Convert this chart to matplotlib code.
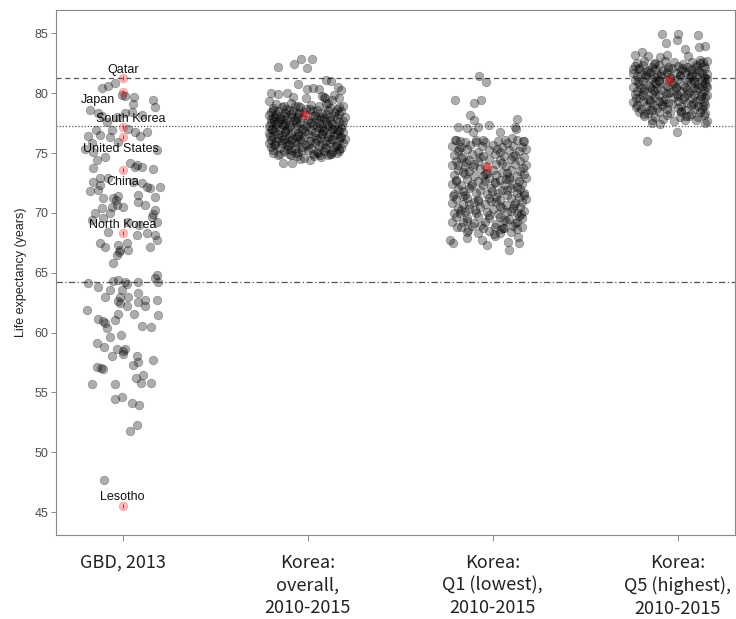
import matplotlib
matplotlib.use("Agg")
import matplotlib.pyplot as plt

# ---- data -------------------------------------------------------------
group_labels = ["GBD, 2013",
                "Korea:\noverall,\n2010-2015",
                "Korea:\nQ1 (lowest),\n2010-2015",
                "Korea:\nQ5 (highest),\n2010-2015"]

y_ticks = [45, 50, 55, 60, 65, 70, 75, 80, 85]

# reference levels (dashed, dotted, dash-dot)
ref_levels = [81.27, 77.26, 64.22]

highlight_countries = ["Qatar", "Japan", "South Korea", "United States",
                       "China", "North Korea", "Lesotho"]
highlight_values = [81.24, 80.12, 77.20, 76.31, 73.58, 68.29, 45.51]

# group means for the Korean series (overall, Q1, Q5)
korea_mean_values = [78.17, 73.81, 81.10]
korea_mean_jitter = [-0.015, -0.030, -0.045]

# (horizontal jitter, life expectancy) for every country / district
gbd_points = [
    (-0.042, 80.87), (-0.078, 80.60), (-0.114, 80.41), (-0.005, 79.85), (0.012, 79.77),
    (0.063, 79.70), (0.057, 79.09), (0.165, 79.43), (0.175, 78.87), (-0.177, 78.59),
    (-0.132, 78.32), (-0.114, 78.09), (-0.032, 78.03), (0.012, 78.32), (0.049, 78.45),
    (0.103, 78.17), (-0.086, 77.62), (-0.144, 76.92), (-0.059, 76.92), (0.030, 76.98),
    (0.066, 76.78), (0.130, 76.78), (-0.186, 76.42), (-0.123, 76.50), (-0.069, 76.31),
    (0.094, 76.42), (-0.024, 75.94), (-0.168, 75.81), (-0.204, 75.31), (-0.159, 75.11),
    (0.184, 75.25), (-0.141, 74.42), (-0.096, 74.69), (-0.159, 73.72), (0.039, 74.19),
    (0.066, 73.86), (0.077, 74.00), (0.103, 73.81), (0.165, 73.64), (-0.123, 72.91),
    (-0.080, 72.90), (-0.159, 72.60), (-0.123, 72.33), (-0.177, 71.83), (-0.132, 71.91),
    (-0.024, 71.43), (0.057, 72.60), (0.103, 72.47), (0.148, 72.05), (0.131, 72.20),
    (0.202, 72.19), (-0.105, 71.22), (-0.051, 71.27), (-0.036, 71.10), (0.084, 71.49),
    (0.175, 71.35), (0.084, 70.93), (0.121, 70.66), (-0.114, 70.38), (-0.059, 70.51),
    (-0.032, 70.66), (0.003, 70.51), (0.175, 70.24), (-0.150, 69.96), (-0.069, 69.96),
    (0.157, 69.68), (0.164, 69.90), (-0.168, 69.40), (-0.105, 69.55), (0.184, 69.26),
    (0.030, 69.20), (0.090, 69.00), (-0.078, 68.38), (0.076, 68.15), (0.130, 68.29),
    (0.175, 68.15), (0.184, 67.73), (-0.123, 67.46), (-0.096, 67.17), (-0.024, 67.31),
    (0.022, 67.46), (0.030, 66.90), (-0.032, 66.48), (-0.020, 66.70), (0.148, 67.17),
    (-0.015, 66.90), (-0.051, 65.79), (0.184, 64.81), (0.175, 64.53), (-0.186, 64.11),
    (-0.132, 63.83), (-0.051, 64.31), (-0.024, 64.39), (0.012, 64.20), (0.023, 64.05),
    (0.084, 64.25), (0.192, 64.25), (-0.069, 63.56), (-0.005, 63.56), (-0.096, 63.00),
    (-0.015, 63.00), (0.030, 62.95), (0.084, 63.28), (0.084, 62.58), (0.121, 62.72),
    (0.184, 62.72), (-0.195, 61.88), (-0.015, 62.44), (-0.025, 62.60), (0.022, 62.22),
    (0.121, 62.22), (-0.024, 61.55), (0.063, 61.53), (0.189, 61.44), (-0.132, 61.11),
    (-0.096, 60.82), (-0.106, 61.00), (-0.042, 61.05), (-0.086, 60.36), (0.103, 60.57),
    (0.153, 60.49), (-0.069, 59.60), (-0.009, 59.80), (-0.141, 59.15), (-0.099, 58.77),
    (-0.032, 58.60), (0.003, 58.46), (0.012, 58.60), (-0.059, 58.07), (0.003, 58.21),
    (0.077, 58.04), (0.165, 57.71), (0.084, 57.57), (0.054, 57.29), (-0.141, 57.10),
    (-0.105, 56.96), (-0.117, 57.05), (0.111, 56.45), (0.072, 56.18), (-0.168, 55.68),
    (-0.042, 55.68), (0.099, 55.76), (0.153, 55.81), (-0.042, 54.42), (-0.005, 54.59),
    (0.049, 54.09), (0.088, 53.95), (0.039, 51.80), (0.076, 52.25), (-0.099, 47.68),
]

overall_points = [
    (-0.163, 82.16), (-0.072, 82.41), (-0.036, 82.83), (0.022, 82.83), (-0.005, 82.13),
    (-0.054, 80.74), (0.099, 81.10), (0.126, 81.02), (-0.005, 80.32), (0.030, 80.41),
    (0.061, 80.32), (0.165, 80.50), (0.180, 80.25),
    (-0.20, 79.99), (-0.16, 79.93), (-0.11, 79.99), (-0.08, 79.65), (-0.01, 79.62),
    (0.08, 79.78), (0.14, 79.86), (0.17, 79.58), (0.09, 79.70), (0.095, 79.60),
    (-0.21, 79.35), (-0.17, 79.07), (-0.13, 78.93), (-0.09, 79.20), (-0.05, 78.90),
    (0.02, 79.05), (0.06, 78.93), (0.10, 79.10), (0.11, 79.20), (0.13, 79.40), (0.17, 78.85),
    (-0.19, 78.75), (-0.14, 78.86), (-0.10, 78.62), (-0.04, 78.81), (0.01, 78.70),
    (0.05, 78.58), (0.12, 78.77), (0.16, 78.66), (0.19, 78.90), (-0.07, 78.95),
    (-0.20, 78.45), (-0.16, 78.55), (-0.12, 78.38), (-0.08, 78.52), (-0.02, 78.41),
    (0.03, 78.49), (0.08, 78.34), (0.11, 78.56), (0.15, 78.42), (0.18, 78.50), (-0.05, 78.28),
    (-0.21, 78.15), (-0.17, 78.22), (-0.13, 78.08), (-0.09, 78.26), (-0.06, 78.02),
    (0.04, 78.20), (0.07, 78.05), (0.10, 78.27), (0.14, 78.12), (0.17, 78.24), (0.20, 78.00),
    (-0.19, 77.90), (-0.15, 77.82), (-0.11, 77.95), (-0.07, 77.78), (-0.03, 77.92),
    (0.00, 77.80), (0.05, 77.86), (0.09, 77.95), (0.12, 77.75), (0.16, 77.90), (-0.18, 77.70),
    (-0.20, 77.55), (-0.16, 77.62), (-0.12, 77.50), (-0.08, 77.66), (-0.04, 77.48),
    (0.02, 77.60), (0.06, 77.52), (0.10, 77.65), (0.13, 77.45), (0.17, 77.58), (0.19, 77.70),
    (-0.14, 77.40),
    (-0.21, 77.28), (-0.17, 77.20), (-0.13, 77.35), (-0.10, 77.15), (-0.06, 77.30),
    (-0.01, 77.22), (0.03, 77.38), (0.08, 77.18), (0.11, 77.30), (0.15, 77.25), (0.18, 77.12),
    (-0.20, 77.02), (-0.15, 76.95), (-0.11, 77.05), (-0.07, 76.88), (-0.03, 77.00),
    (0.02, 76.92), (0.06, 77.06), (0.09, 76.90), (0.13, 77.00), (0.17, 76.85), (-0.18, 76.80),
    (-0.21, 76.70), (-0.16, 76.62), (-0.12, 76.75), (-0.09, 76.58), (-0.05, 76.70),
    (0.00, 76.60), (0.04, 76.74), (0.08, 76.55), (0.12, 76.68), (0.16, 76.60), (0.19, 76.72),
    (-0.19, 76.40), (-0.14, 76.48), (-0.10, 76.32), (-0.06, 76.45), (-0.02, 76.30),
    (0.03, 76.42), (0.07, 76.28), (0.11, 76.38), (0.14, 76.50), (0.18, 76.35),
    (-0.20, 76.12), (-0.17, 76.00), (-0.13, 76.15), (-0.09, 76.05), (-0.04, 76.18),
    (0.01, 76.02), (0.05, 76.10), (0.10, 75.98), (0.13, 76.14), (0.17, 76.05), (0.20, 76.20),
    (-0.18, 75.75), (-0.14, 75.85), (-0.10, 75.70), (-0.06, 75.82), (-0.01, 75.68),
    (0.04, 75.80), (0.08, 75.72), (0.12, 75.86), (0.16, 75.70), (0.19, 75.85),
    (-0.20, 75.50), (-0.15, 75.42), (-0.11, 75.55), (-0.07, 75.40), (-0.03, 75.52),
    (0.02, 75.45), (0.06, 75.58), (0.10, 75.38), (0.14, 75.50), (0.18, 75.44),
    (-0.19, 75.22), (-0.13, 75.15), (-0.09, 75.28), (-0.05, 75.10), (0.00, 75.25),
    (0.05, 75.12), (0.09, 75.20), (0.13, 75.05), (0.17, 75.18),
    (-0.16, 74.85), (-0.10, 74.92), (-0.06, 74.78), (0.03, 74.88), (0.07, 74.70),
    (0.12, 74.95), (-0.02, 74.60),
    (-0.186, 74.98), (-0.132, 74.14), (-0.086, 74.19), (-0.042, 74.47), (0.012, 74.42),
    (0.066, 74.83), (0.111, 74.83), (0.157, 75.03), (-0.208, 75.81), (0.175, 76.36),
    (-0.187, 78.63), (-0.152, 78.11), (-0.118, 78.71), (-0.083, 77.98), (-0.046, 78.37),
    (-0.171, 77.44), (-0.134, 77.77), (-0.097, 77.31), (-0.061, 77.59), (-0.024, 77.09),
    (-0.193, 76.97), (-0.158, 76.27), (-0.121, 76.88), (-0.085, 76.14), (-0.049, 76.53),
    (-0.013, 76.81), (-0.176, 75.64), (-0.141, 76.07), (-0.104, 75.33), (-0.068, 75.96),
    (-0.031, 75.27), (0.007, 75.73), (0.044, 76.23), (0.081, 76.84), (0.118, 76.17),
    (0.155, 75.57), (0.139, 77.04), (0.102, 77.41), (0.066, 77.83), (0.029, 78.13),
    (-0.008, 78.69), (0.057, 75.03), (0.093, 75.49), (0.128, 74.96), (-0.147, 74.93),
    (-0.206, 76.46), (-0.092, 74.87), (0.163, 76.91), (0.187, 77.37), (0.014, 77.54),
    (-0.115, 75.95), (-0.038, 76.02), (0.075, 76.56), (0.121, 78.03), (-0.176, 78.03),
    (0.171, 75.33), (-0.063, 74.97), (0.036, 74.74), (-0.198, 77.83), (0.052, 77.21),
]

q1_points = [
    (-0.072, 81.46), (-0.036, 80.96), (-0.204, 79.43), (-0.099, 79.15), (-0.065, 79.43),
    (-0.123, 78.18), (-0.101, 77.76), (0.130, 77.82), (-0.186, 77.20), (-0.140, 77.06),
    (-0.105, 76.78), (-0.078, 77.20), (-0.018, 77.34), (0.120, 77.20), (0.125, 77.05),
    (0.040, 76.78), (-0.204, 76.09), (-0.177, 76.03), (-0.050, 76.09), (0.066, 76.09),
    (0.103, 76.23), (0.165, 76.03),
    (-0.20, 76.05), (-0.15, 75.95), (-0.09, 76.10), (-0.04, 75.90), (0.03, 76.00),
    (0.08, 75.88), (0.13, 76.12), (0.17, 75.98),
    (-0.22, 75.60), (-0.17, 75.50), (-0.12, 75.68), (-0.06, 75.55), (0.00, 75.70),
    (0.05, 75.52), (0.11, 75.62), (0.16, 75.48),
    (-0.19, 75.20), (-0.14, 75.30), (-0.08, 75.12), (-0.02, 75.25), (0.04, 75.10),
    (0.09, 75.28), (0.14, 75.15), (0.18, 75.30),
    (-0.21, 74.82), (-0.16, 74.70), (-0.11, 74.88), (-0.05, 74.75), (0.01, 74.90),
    (0.06, 74.72), (0.12, 74.85), (0.17, 74.68),
    (-0.20, 74.35), (-0.13, 74.45), (-0.08, 74.30), (-0.02, 74.48), (0.04, 74.38),
    (0.10, 74.50), (0.15, 74.32), (-0.17, 74.55),
    (-0.22, 74.02), (-0.15, 73.95), (-0.10, 74.10), (-0.04, 73.90), (0.02, 74.05),
    (0.07, 73.92), (0.12, 74.08), (0.18, 73.98),
    (-0.19, 73.60), (-0.13, 73.52), (-0.07, 73.68), (0.00, 73.55), (0.05, 73.45),
    (0.10, 73.62), (0.15, 73.50), (-0.16, 73.40),
    (-0.21, 73.20), (-0.15, 73.28), (-0.10, 73.12), (-0.04, 73.25), (0.02, 73.15),
    (0.08, 73.30), (0.13, 73.10), (0.17, 73.22),
    (-0.20, 72.75), (-0.14, 72.85), (-0.08, 72.70), (-0.02, 72.88), (0.04, 72.72),
    (0.09, 72.82), (0.14, 72.68), (0.18, 72.90),
    (-0.22, 72.40), (-0.17, 72.32), (-0.11, 72.45), (-0.05, 72.35), (0.01, 72.50),
    (0.06, 72.30), (0.11, 72.42), (0.16, 72.38),
    (-0.19, 72.00), (-0.13, 72.08), (-0.07, 71.95), (-0.01, 72.10), (0.05, 71.92),
    (0.10, 72.05), (0.15, 71.98), (-0.16, 71.85),
    (-0.21, 71.60), (-0.15, 71.52), (-0.09, 71.68), (-0.03, 71.55), (0.03, 71.65),
    (0.08, 71.50), (0.13, 71.62), (0.17, 71.70),
    (-0.20, 71.18), (-0.14, 71.28), (-0.08, 71.12), (-0.02, 71.25), (0.04, 71.10),
    (0.10, 71.22), (0.14, 71.30), (0.18, 71.15),
    (-0.22, 70.80), (-0.16, 70.72), (-0.10, 70.88), (-0.04, 70.75), (0.02, 70.90),
    (0.07, 70.70), (0.12, 70.82), (0.16, 70.90),
    (-0.19, 70.42), (-0.13, 70.35), (-0.07, 70.48), (0.00, 70.30), (0.05, 70.45),
    (0.11, 70.38), (0.15, 70.50), (-0.17, 70.25),
    (-0.21, 70.00), (-0.15, 70.08), (-0.09, 69.95), (-0.03, 70.10), (0.03, 69.92),
    (0.08, 70.05), (0.13, 69.98), (0.17, 70.12),
    (-0.20, 69.62), (-0.14, 69.55), (-0.08, 69.70), (-0.02, 69.58), (0.04, 69.65),
    (0.09, 69.50), (0.14, 69.72),
    (-0.22, 69.20), (-0.16, 69.28), (-0.10, 69.15), (-0.04, 69.25), (0.02, 69.10),
    (0.07, 69.30), (0.12, 69.18),
    (-0.17, 68.80), (-0.11, 68.90), (-0.05, 68.75), (0.01, 68.85), (0.06, 68.70),
    (0.11, 68.90), (0.16, 68.78),
    (-0.14, 68.40), (-0.08, 68.35), (-0.02, 68.45), (0.04, 68.30), (0.10, 68.42),
    (-0.231, 67.73), (-0.213, 67.46), (-0.140, 67.87), (-0.059, 67.73), (-0.032, 67.31),
    (0.084, 67.59), (0.090, 66.90), (0.138, 68.00), (0.144, 67.46), (0.009, 68.20),
    (0.015, 68.05), (-0.195, 68.85), (-0.132, 68.57), (0.057, 68.71), (0.130, 69.26),
    (0.157, 69.55),
    (-0.181, 75.37), (-0.143, 74.21), (-0.107, 73.83), (-0.069, 74.63), (-0.028, 73.37),
    (0.012, 72.59), (0.052, 74.17), (0.091, 73.02), (0.133, 72.17), (0.162, 73.73),
    (-0.197, 72.63), (-0.158, 71.37), (-0.119, 72.21), (-0.081, 71.03), (-0.043, 72.63),
    (-0.004, 71.83), (0.037, 70.57), (0.076, 71.91), (0.115, 70.67), (0.151, 69.87),
    (-0.176, 70.03), (-0.137, 69.33), (-0.098, 70.21), (-0.061, 68.97), (-0.022, 69.83),
    (0.019, 71.29), (0.059, 69.41), (0.098, 70.13), (0.131, 68.63), (-0.213, 71.37),
    (-0.186, 73.97), (-0.052, 73.07), (0.071, 72.87), (0.109, 74.77), (-0.089, 75.89),
    (0.026, 75.37), (0.171, 71.49), (-0.127, 70.73), (0.046, 68.63), (-0.011, 70.97),
]

q5_points = [
    (-0.086, 84.94), (0.003, 84.94), (-0.005, 84.44), (0.111, 84.86), (-0.063, 84.16),
    (0.039, 83.66), (0.116, 83.83), (0.147, 83.94), (-0.231, 83.19), (-0.195, 83.46),
    (-0.159, 83.11), (-0.097, 83.05), (-0.057, 83.19), (0.057, 83.11), (0.120, 82.77),
    (0.138, 82.63), (-0.240, 81.99),
    (-0.22, 82.55), (-0.18, 82.65), (-0.12, 82.50), (-0.07, 82.70), (-0.02, 82.58),
    (0.03, 82.48), (0.08, 82.62), (0.12, 82.52), (0.16, 82.68),
    (-0.23, 82.25), (-0.19, 82.35), (-0.14, 82.20), (-0.10, 82.32), (-0.05, 82.18),
    (0.00, 82.30), (0.05, 82.22), (0.10, 82.38), (0.14, 82.25),
    (-0.21, 82.00), (-0.16, 81.92), (-0.12, 82.05), (-0.08, 81.95), (-0.03, 82.08),
    (0.02, 81.90), (0.07, 82.02), (0.11, 81.95), (0.15, 82.10),
    (-0.24, 81.70), (-0.20, 81.62), (-0.15, 81.75), (-0.11, 81.60), (-0.06, 81.72),
    (-0.01, 81.65), (0.04, 81.78), (0.08, 81.60), (0.13, 81.70), (0.16, 81.62),
    (-0.22, 81.40), (-0.17, 81.48), (-0.13, 81.35), (-0.09, 81.45), (-0.04, 81.32),
    (0.01, 81.42), (0.06, 81.30), (0.10, 81.45), (0.14, 81.38),
    (-0.23, 81.10), (-0.19, 81.02), (-0.14, 81.15), (-0.10, 81.05), (0.00, 81.18),
    (0.05, 81.00), (0.09, 81.12), (0.13, 81.05), (0.16, 81.15),
    (-0.21, 80.80), (-0.16, 80.72), (-0.12, 80.85), (-0.07, 80.75), (-0.02, 80.88),
    (0.03, 80.70), (0.07, 80.82), (0.11, 80.75), (0.15, 80.85),
    (-0.24, 80.50), (-0.20, 80.42), (-0.15, 80.55), (-0.11, 80.45), (-0.06, 80.58),
    (-0.01, 80.40), (0.04, 80.52), (0.09, 80.45), (0.13, 80.58), (0.16, 80.48),
    (-0.22, 80.20), (-0.18, 80.28), (-0.13, 80.15), (-0.09, 80.25), (-0.04, 80.12),
    (0.01, 80.22), (0.06, 80.10), (0.10, 80.25), (0.14, 80.18),
    (-0.23, 79.90), (-0.19, 79.82), (-0.14, 79.95), (-0.10, 79.85), (-0.05, 79.98),
    (0.00, 79.80), (0.05, 79.92), (0.09, 79.85), (0.13, 79.95), (0.16, 79.88),
    (-0.21, 79.60), (-0.16, 79.52), (-0.12, 79.65), (-0.07, 79.55), (-0.02, 79.68),
    (0.03, 79.50), (0.08, 79.62), (0.12, 79.55), (0.15, 79.68),
    (-0.24, 79.30), (-0.19, 79.38), (-0.15, 79.25), (-0.10, 79.35), (-0.05, 79.22),
    (0.00, 79.32), (0.05, 79.20), (0.10, 79.35), (0.14, 79.28),
    (-0.22, 79.00), (-0.17, 78.92), (-0.13, 79.05), (-0.08, 78.95), (-0.03, 79.08),
    (0.02, 78.90), (0.07, 79.02), (0.11, 78.95), (0.15, 79.05),
    (-0.20, 78.70), (-0.15, 78.62), (-0.11, 78.75), (-0.06, 78.65), (0.00, 78.78),
    (0.04, 78.60), (0.09, 78.72), (0.13, 78.65),
    (-0.21, 78.40), (-0.16, 78.32), (-0.10, 78.45), (-0.04, 78.35), (0.02, 78.42),
    (0.07, 78.30), (0.12, 78.45), (0.15, 78.38),
    (-0.18, 78.10), (-0.12, 78.02), (-0.06, 78.15), (0.01, 78.05), (0.06, 78.12),
    (0.11, 78.00), (0.14, 78.15),
    (-0.14, 77.75), (-0.08, 77.82), (-0.02, 77.70), (0.04, 77.78), (0.10, 77.72),
    (0.16, 77.68),
    (-0.140, 77.48), (-0.096, 77.42), (-0.005, 76.78), (-0.168, 76.03), (0.148, 77.48),
    (-0.213, 80.97), (-0.174, 81.33), (-0.137, 80.33), (-0.101, 81.07), (-0.063, 80.01),
    (-0.026, 80.67), (0.013, 81.51), (0.051, 80.29), (0.089, 80.93), (0.127, 79.77),
    (0.152, 80.61), (-0.227, 79.63), (-0.189, 80.13), (-0.152, 79.47), (-0.116, 80.81),
    (-0.078, 79.37), (-0.041, 81.27), (-0.004, 79.93), (0.034, 79.71), (0.072, 81.41),
    (0.111, 80.47), (0.146, 81.23), (-0.207, 82.07), (-0.168, 81.77), (-0.129, 82.43),
    (-0.092, 81.57), (-0.054, 82.01), (0.025, 82.13), (0.063, 81.87), (0.101, 82.21),
    (-0.223, 78.83), (-0.141, 78.57), (-0.087, 79.13), (0.019, 78.53), (0.083, 79.11),
    (0.139, 78.91), (-0.184, 78.27), (0.044, 78.07), (-0.011, 80.53), (0.118, 81.73),
]

# ---- figure -----------------------------------------------------------
TEXT_FONT = ["Liberation Sans", "DejaVu Sans"]
LABEL_FONT = ["Noto Sans CJK KR", "DejaVu Sans"]

fig = plt.figure(figsize=(7.36, 6.19), dpi=100)
ax = fig.add_axes([56 / 736, 1 - 535 / 619, 679 / 736, 525 / 619])

for level, style in zip(ref_levels, [(0, (4, 3)), (0, (1, 1.5)), (0, (5, 2, 1, 2))]):
    ax.axhline(level, color="#555555", lw=0.9, ls=style, zorder=1)

POINT_SIZE = 38
all_groups = [gbd_points, overall_points, q1_points, q5_points]
for pos, pts in enumerate(all_groups, start=1):
    xs = [pos + j for j, _ in pts]
    ys = [v for _, v in pts]
    ax.scatter(xs, ys, s=POINT_SIZE, c="black", alpha=0.32, linewidths=0.5,
               edgecolors="black", zorder=2)

# highlighted countries in the GBD column
ax.scatter([1] * len(highlight_values), highlight_values, s=POINT_SIZE, c="red",
           alpha=0.28, linewidths=0.5, edgecolors="red", zorder=3)
ax.scatter([1] * len(highlight_values), highlight_values, s=10, marker="|",
           c="#555555", linewidths=0.7, zorder=4)

# Korean means
ax.scatter([p + j for p, j in zip([2, 3, 4], korea_mean_jitter)], korea_mean_values,
           s=POINT_SIZE, c="red", alpha=0.45, linewidths=0.5, edgecolors="#aa0000",
           zorder=3)

label_offsets = {
    "Qatar": (0, 6.2),
    "Japan": (-17.8, -6.0),
    "South Korea": (6.0, 5.6),
    "United States": (-1.2, -8.4),
    "China": (0, -8.6),
    "North Korea": (0, 6.0),
    "Lesotho": (0, 6.6),
}
for name, val in zip(highlight_countries, highlight_values):
    ax.annotate(name, (1, val), xytext=label_offsets[name], textcoords="offset points",
                ha="center", va="center", fontsize=9, family=TEXT_FONT,
                color="#111111", zorder=5)

ax.set_xlim(0.6395, 4.31)
ax.set_ylim(43.09, 86.95)
ax.set_yticks(y_ticks)
ax.set_yticklabels([str(t) for t in y_ticks], family=TEXT_FONT, fontsize=9,
                   color="#4d4d4d")
ax.set_xticks([1, 2, 3, 4])
ax.set_xticklabels(group_labels, family=LABEL_FONT, fontsize=13, color="#222222",
                   linespacing=1.33, va="top")
ax.tick_params(axis="y", length=3.5, width=0.6, color="#777777", pad=2)
ax.tick_params(axis="x", length=4, width=0.6, color="#777777", pad=9.5)
for sp in ax.spines.values():
    sp.set_color("#888888")
    sp.set_linewidth(0.8)

ax.set_ylabel("Life expectancy (years)", family=TEXT_FONT, fontsize=9,
              color="#222222", labelpad=5)

fig.savefig("out.png", dpi=100, facecolor="white")
